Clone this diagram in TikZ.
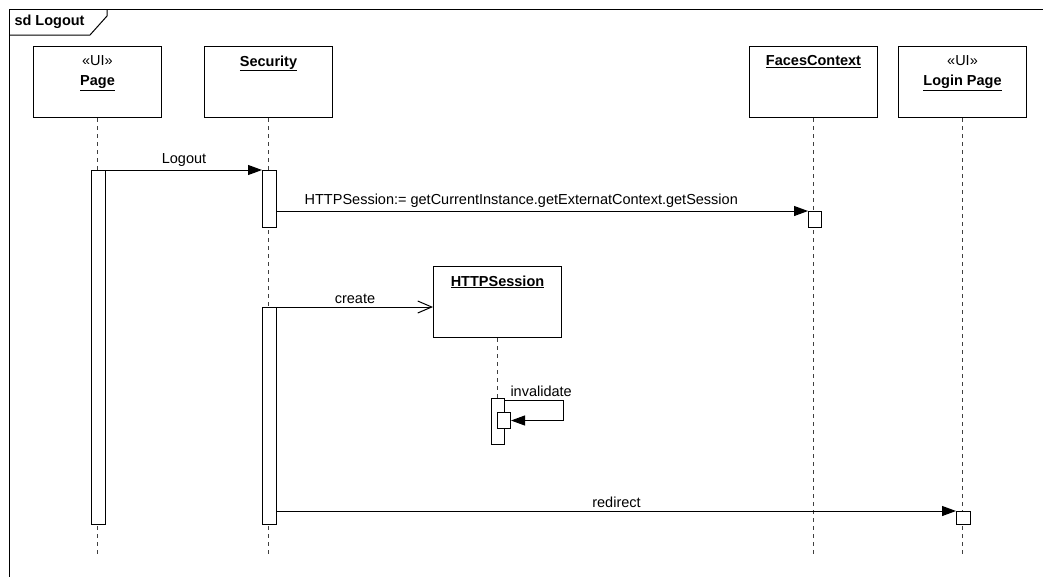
\documentclass[tikz,border=0pt]{standalone}
\usepackage{fontspec}
\setmainfont{Liberation Sans}
\usetikzlibrary{positioning,arrows.meta}

\begin{document}
\begin{tikzpicture}[x=1pt,y=-1pt,line width=1pt,
   font=\fontsize{14.5}{17}\selectfont,
   head/.style={draw,minimum width=128pt,minimum height=71pt,inner sep=0pt,anchor=north west},
   headtext/.style={anchor=north,align=center,yshift=-9pt,inner sep=0pt},
   act/.style={draw,fill=white,minimum width=14pt,inner sep=0pt,anchor=north west},
   life/.style={black!75,dash pattern=on 4pt off 4pt},
   msg/.style={-{Triangle[length=14pt,width=10pt]}},
   create/.style={-{Straight Barb[length=14pt,width=12pt]}}]
   \useasboundingbox (0,0) rectangle (1043,576);
   % frame
   \draw (9,9) rectangle (1060,600);
   \node[anchor=west,font=\fontsize{14.5}{17}\selectfont\bfseries,inner sep=0pt] (frameLabel) at (14,22) {sd Logout};
   \draw (9,35) -- (90,35) -- (107,16) -- (107,9);
   % lifelines
   \node[head,label={[headtext]north:{«UI»\\[3pt]\underline{\textbf{Page}}}}] (page) at (33,46) {};
   \node[head,label={[headtext]north:{\underline{\textbf{Security}}}}] (security) at (204,46) {};
   \node[head,label={[headtext]north:{\underline{\textbf{FacesContext}}}}] (faces) at (749,46) {};
   \node[head,label={[headtext]north:{«UI»\\[3pt]\underline{\textbf{Login Page}}}}] (login) at (898,46) {};
   \node[head,label={[headtext]north:{\underline{\textbf{HTTPSession}}}}] (session) at (433,266) {};
   \coordinate (bottom) at (0,555);
   \draw[life] (page.south) -- (page.south |- bottom);
   \draw[life] (security.south) -- (security.south |- bottom);
   \draw[life] (faces.south) -- (faces.south |- bottom);
   \draw[life] (login.south) -- (login.south |- bottom);
   \draw[life] (session.south) -- ++(0,61);
   % activations
   \node[act,minimum height=354pt] (pageAct) at (91,170) {};
   \node[act,minimum height=57pt] (secAct) at (262,170) {};
   \node[act,minimum height=217pt] (secAct2) at (262,307) {};
   \node[act,minimum width=13pt,minimum height=16pt] (facesAct) at (808,211) {};
   \node[act,minimum width=13pt,minimum height=46pt] (sessAct) at (491,398) {};
   \node[act,minimum width=13pt,minimum height=16pt] (sessAct2) at (497,412) {};
   \node[act,minimum height=13pt] (loginAct) at (956,511) {};
   % messages
   \draw[msg] (pageAct.north east) -- node[above] {Logout} (secAct.north west);
   \draw[msg] (secAct.east |- facesAct.north) -- node[above,pos=0.46] {HTTPSession:= getCurrentInstance.getExternatContext.getSession} (facesAct.north west);
   \draw[create] (secAct2.north east) -- node[above] {create} (secAct2.north east -| session.west);
   \coordinate (loop) at (563,400);
   \draw[msg] (sessAct.east |- loop) node[above right,inner sep=3pt,xshift=2pt] {invalidate} -- (loop) -- (loop |- sessAct2.east) -- (sessAct2.east);
   \draw[msg] (secAct2.east |- loginAct.north) -- node[above] {redirect} (loginAct.north west);
\end{tikzpicture}
\end{document}
